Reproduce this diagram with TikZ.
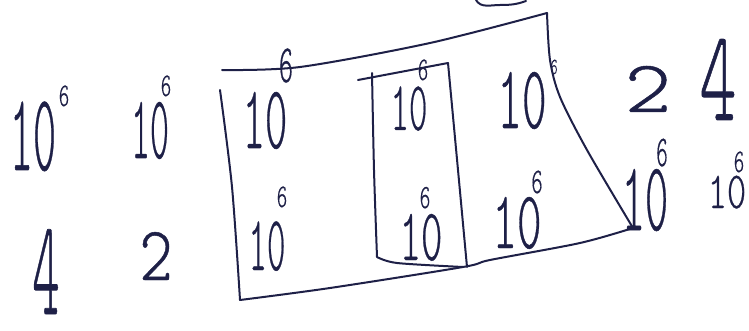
\documentclass[tikz,border=0pt]{standalone}
\usepackage{fontspec}
\newfontfamily\pen{Latin Modern Mono Light}[FakeBold=0.6]
\definecolor{ink}{HTML}{1E2047}
% handwritten-looking digits: [x squeeze]{size}{text}
\newcommand{\scrawl}[3][0.45]{\scalebox{#1}[1]{\fontsize{#2}{#2}\selectfont\pen #3}}
\tikzset{
  hand/.style={inner sep=0pt, anchor=base, text=ink},
  stroke/.style={ink, line width=2pt, line cap=round, line join=round}
}

\begin{document}
\begin{tikzpicture}[x=1pt, y=-1pt]
    \useasboundingbox (0,0) rectangle (749,331);

    % Outer frame
    \draw[stroke] plot[smooth] coordinates {(222,70) (300,67) (430,43) (547,13)};
    \draw[stroke] plot[smooth] coordinates {(547,13) (550,60) (560,97) (587,150) (633,228)};
    \draw[stroke] plot[smooth] coordinates {(633,228) (580,243) (490,260) (463,267) (330,288) (240,300)};
    \draw[stroke] plot[smooth] coordinates {(220,90) (232,187) (240,300)};

    % Inner box
    \draw[stroke] (358,80) -- (448,63);
    \draw[stroke] plot[smooth] coordinates {(372,73) (374,170) (377,257)};
    \draw[stroke] plot[smooth] coordinates {(448,63) (458,170) (467,267)};
    \draw[stroke] plot[smooth] coordinates {(377,257) (397,263) (463,267)};

    % Scrap at the top edge
    \draw[stroke] (476,0) to[out=-60, in=180] (500,5) to[out=0, in=200] (526,1);

    % Top row
    \node[hand] (t1) at (33,170) {\scrawl[0.4]{110}{10}};
    \node[hand] (t1e) at (64,106) {\scrawl[0.6]{33}{6}};
    \node[hand] (t2) at (150,158) {\scrawl[0.4]{90}{10}};
    \node[hand] (t2e) at (166,96) {\scrawl[0.6]{33}{6}};
    \node[hand] (t3) at (265,148) {\scrawl[0.47]{90}{10}};
    \node[hand] (t3e) at (286,82) {\scrawl[0.5]{54}{6}};
    \node[hand] (t4) at (409,130) {\scrawl[0.5]{70}{10}};
    \node[hand] (t4e) at (423,80) {\scrawl[0.6]{33}{6}};
    \node[hand] (t5) at (522,128) {\scrawl[0.52]{90}{10}};
    \node[hand] (t5e) at (554,74) {\scrawl[0.6]{23}{6}};
    \node[hand] (t6) at (648,112) {\scrawl[1.2]{74}{2}};
    \node[hand] (t7) at (718,120) {\scrawl[0.54]{130}{4}};

    % Bottom row
    \node[hand] (b1) at (46,314) {\scrawl[0.38]{136}{4}};
    \node[hand] (b2) at (156,280) {\scrawl[0.82]{77}{2}};
    \node[hand] (b3) at (267,270) {\scrawl[0.45]{78}{10}};
    \node[hand] (b3e) at (282,207) {\scrawl[0.6]{33}{6}};
    \node[hand] (b4) at (421,260) {\scrawl[0.55]{74}{10}};
    \node[hand] (b4e) at (425,208) {\scrawl[0.6]{34}{6}};
    \node[hand] (b5) at (517,248) {\scrawl[0.57]{82}{10}};
    \node[hand] (b5e) at (537,193) {\scrawl[0.6]{36}{6}};
    \node[hand] (b6) at (645,230) {\scrawl[0.45]{98}{10}};
    \node[hand] (b6e) at (662,166) {\scrawl[0.5]{44}{6}};
    \node[hand] (b7) at (727,208) {\scrawl[0.7]{52}{10}};
    \node[hand] (b7e) at (739,172) {\scrawl[0.6]{33}{6}};
\end{tikzpicture}
\end{document}
